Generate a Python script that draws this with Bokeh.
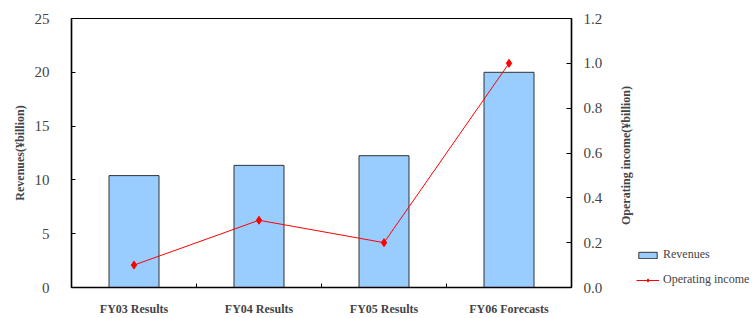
import math
from bokeh.plotting import figure
from bokeh.layouts import row
from bokeh.models import Range1d, LinearAxis, FixedTicker, Legend, LegendItem, ColumnDataSource, Label
from bokeh.embed import file_html
from bokeh.resources import INLINE

categories = ["FY03 Results", "FY04 Results", "FY05 Results", "FY06 Forecasts"]
revenues = [10.4, 11.35, 12.25, 20.0]
operating_income = [0.1, 0.3, 0.2, 1.0]
left_ticks = [0, 5, 10, 15, 20, 25]
right_ticks = [0.0, 0.2, 0.4, 0.6, 0.8, 1.0, 1.2]

xpos = [i + 0.5 for i in range(len(categories))]
src = ColumnDataSource(dict(x=xpos, rev=revenues, op=operating_income))

FONT = "Liberation Serif"
BAR_FILL = "#99CCFF"
BAR_LINE = "#333333"

p = figure(width=612, height=318, output_backend="svg", toolbar_location=None,
           x_range=Range1d(0, len(categories)), y_range=Range1d(0, 25),
           min_border_left=71, min_border_right=41, min_border_top=18, min_border_bottom=29)
p.extra_y_ranges = {"op": Range1d(0, 1.2)}
p.grid.visible = False
p.outline_line_color = "black"
p.outline_line_width = 1.2
p.background_fill_color = "white"
p.border_fill_color = "white"

p.vbar(x="x", top="rev", width=0.4, source=src, fill_color=BAR_FILL,
       line_color=BAR_LINE, line_width=1)
p.line(x="x", y="op", source=src, y_range_name="op", line_color="red", line_width=1)
p.scatter(x="x", y="op", source=src, y_range_name="op", marker="diamond",
          size=8, fill_color="red", line_color="red")

# x axis
xa = p.xaxis[0]
xa.ticker = FixedTicker(ticks=xpos, minor_ticks=[1, 2, 3])
xa.major_label_overrides = {x: c for x, c in zip(xpos, categories)}
xa.major_tick_line_color = None
xa.minor_tick_in = 4
xa.minor_tick_out = 0
xa.minor_tick_line_color = "black"
xa.major_label_text_font = FONT
xa.major_label_text_font_style = "bold"
xa.major_label_text_font_size = "12px"
xa.major_label_standoff = 8
xa.axis_line_color = "black"
xa.axis_line_width = 1.5

# left axis
ya = p.yaxis[0]
ya.ticker = FixedTicker(ticks=left_ticks)
ya.minor_tick_line_color = None
ya.major_tick_in = 4
ya.major_tick_out = 0
ya.major_label_text_font = FONT
ya.major_label_text_font_size = "15px"
ya.major_label_standoff = 22
ya.axis_label = "Revenues(¥billion)"
ya.axis_label_text_font = FONT
ya.axis_label_text_font_style = "bold"
ya.axis_label_text_font_size = "12px"
ya.axis_label_standoff = 5
ya.axis_line_width = 1.5

# right axis (title is drawn in the side panel figure)
ra = LinearAxis(y_range_name="op", ticker=FixedTicker(ticks=right_ticks))
ra.major_label_overrides = {t: f"{t:.1f}" for t in right_ticks}
ra.minor_tick_line_color = None
ra.major_tick_in = 5
ra.major_tick_out = 0
ra.major_label_text_font = FONT
ra.major_label_text_font_size = "15px"
ra.major_label_standoff = 12
ra.axis_line_width = 1.5
p.add_layout(ra, "right")

# side panel: right-axis title + legend
lg = figure(width=142, height=318, output_backend="svg", toolbar_location=None,
            x_range=Range1d(0, 1), y_range=Range1d(0, 1),
            x_axis_location=None, y_axis_location=None,
            min_border_left=0, min_border_right=0, min_border_top=0, min_border_bottom=0)
lg.grid.visible = False
lg.outline_line_color = None
lg.background_fill_color = "white"

rtitle = Label(x=13, y=132, x_units="screen", y_units="screen",
               text="Operating income(¥billion)", angle=math.pi / 2,
               text_align="center", text_baseline="middle",
               text_font=FONT, text_font_style="bold", text_font_size="12px")
lg.add_layout(rtitle)

placeholder = ColumnDataSource(dict(x=[float("nan")], y=[float("nan")]))
r_bar = lg.vbar(x="x", top="y", width=0.4, source=placeholder, fill_color=BAR_FILL,
                line_color=BAR_LINE, line_width=1)
r_line = lg.line(x="x", y="y", source=placeholder, line_color="red", line_width=1)
r_pts = lg.scatter(x="x", y="y", source=placeholder, marker="diamond", size=8,
                   fill_color="red", line_color="red")

legend = Legend(items=[LegendItem(label="Revenues", renderers=[r_bar]),
                       LegendItem(label="Operating income", renderers=[r_line, r_pts])],
                location=(24, 0), padding=0, margin=0, spacing=10,
                glyph_width=23, glyph_height=8, label_height=12, label_standoff=4,
                label_text_font=FONT, label_text_font_size="12px",
                border_line_color=None, background_fill_alpha=0)
lg.add_layout(legend, "center")

layout = row(p, lg)
open("out.html", "w").write(file_html(layout, INLINE))
